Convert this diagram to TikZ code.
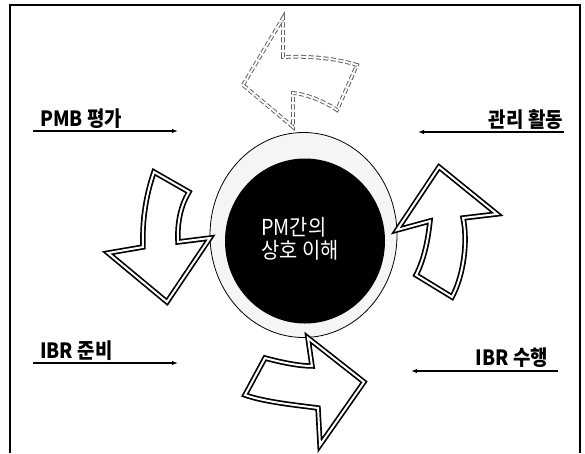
\documentclass[tikz,border=0pt]{standalone}
\usepackage{fontspec}
\newfontfamily\kr[FakeStretch=0.9]{Noto Sans CJK KR}
\usetikzlibrary{arrows.meta,shapes.geometric}
\begin{document}
\begin{tikzpicture}[x=1pt,y=-1pt,
  blockarrow/.style={draw=black, line width=1.7pt, double=white, double distance=2pt, fill=white, line join=miter},
  ghostarrow/.style={draw=black!60, line width=1pt, double=white, double distance=1.8pt, dash pattern=on 5pt off 2.5pt, fill=white},
  labelarrow/.style={line width=1.2pt, -{Latex[length=6pt,width=4.5pt]}},
  lbl/.style={font=\kr\bfseries\fontsize{21}{21}\selectfont, inner sep=0pt},
  ctext/.style={font=\kr\fontsize{22}{22}\selectfont, text=white, inner sep=0pt}]
\useasboundingbox (0,0) rectangle (585,453);
% frame
\draw[line width=1.2pt] (10,453) -- (10,5) -- (580,5) -- (580,453);
% central circle
\node[ellipse, draw, line width=0.8pt, fill=black!4, minimum width=187pt, minimum height=205pt, inner sep=0pt] (ring) at (303.5,235) {};
\node[ellipse, fill=black, minimum width=160pt, minimum height=165pt, inner sep=0pt] (core) at (305,241) {};
\node[ctext, anchor=base west] (t1) at (261,235) {PM간의};
\node[ctext, anchor=base west] (t2) at (261,258) {상호 이해};
% block arrows
\draw[ghostarrow] (243,85) -- (283,18) -- (283,57) .. controls (310,56) and (335,58) .. (357,65) -- (337,110) .. controls (322,100) and (305,94) .. (293,93) -- (293,127) -- cycle;
\draw[blockarrow] (154,172) .. controls (146,195) and (142,220) .. (143,247) -- (108,253) -- (167,302) -- (210,238) -- (178,242) .. controls (177,222) and (181,205) .. (189,192) -- cycle;
\draw[blockarrow] (439,167) -- (497,214) -- (463,218) .. controls (468,240) and (464,275) .. (452,297) -- (416,275) .. controls (424,260) and (428,240) .. (430,221) -- (397,230) -- cycle;
\draw[blockarrow] (308,338) -- (364,382) -- (320,445) -- (318,408) .. controls (295,405) and (265,402) .. (245,395) -- (265,358) .. controls (280,362) and (298,366) .. (312,366) -- cycle;
% labels
\node[lbl, anchor=base west] (l1) at (40,126) {PMB 평가};
\node[lbl, anchor=base east] (l2) at (563,127) {관리 활동};
\node[lbl, anchor=base west] (l3) at (40,358) {IBR 준비};
\node[lbl, anchor=base east] (l4) at (548,365) {IBR 수행};
\coordinate (a1s) at (33,131); \coordinate (a1e) at (178,131);
\coordinate (a2s) at (564,132); \coordinate (a2e) at (418,132);
\coordinate (a3s) at (33,363); \coordinate (a3e) at (178,363);
\coordinate (a4s) at (558,371); \coordinate (a4e) at (411,371);
\draw[labelarrow] (a1s) -- (a1e);
\draw[labelarrow] (a2s) -- (a2e);
\draw[labelarrow] (a3s) -- (a3e);
\draw[labelarrow] (a4s) -- (a4e);
\end{tikzpicture}
\end{document}
